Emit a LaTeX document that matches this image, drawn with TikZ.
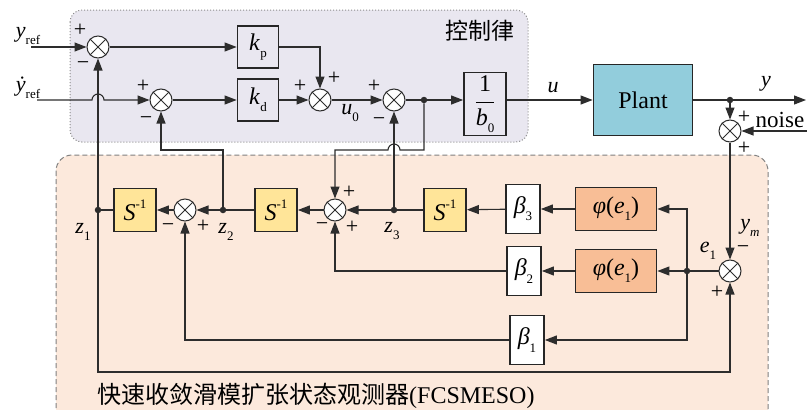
\documentclass[tikz,border=0pt]{standalone}
\usepackage{fontspec}
\setmainfont{Liberation Serif}
\newfontfamily\cjk{Noto Sans CJK SC}
\usetikzlibrary{arrows.meta}

\definecolor{ctrlbg}{RGB}{233,231,240}
\definecolor{esobg}{RGB}{252,233,220}
\definecolor{plantfill}{RGB}{146,205,220}
\definecolor{intfill}{RGB}{255,229,153}
\definecolor{phifill}{RGB}{248,190,150}
\definecolor{wirec}{RGB}{45,45,45}

\newcommand\lblsize{\fontsize{22}{24}\selectfont}
\newcommand\blksize{\fontsize{24}{26}\selectfont}
\newcommand\sub[1]{\raisebox{-0.3em}{\fontsize{13}{13}\selectfont #1}}
\newcommand\sinv{\textit{S}\raisebox{0.5em}{\fontsize{13}{13}\selectfont -1}}
\newcommand\phie{\textit{φ}(\textit{e}\sub{1})}

\begin{document}
\begin{tikzpicture}[
        x=1pt, y=-1pt,
        ctrlbox/.style={fill=ctrlbg, draw=black!45, dotted, line width=1pt, rounded corners=12pt},
        esobox/.style={fill=esobg, draw=black!50, dash pattern=on 5pt off 3pt, line width=1pt, rounded corners=16pt},
        sumn/.style={circle, draw=wirec, line width=1pt, fill=white, minimum size=22pt, inner sep=0pt},
        blk/.style={draw=black!85, line width=1.8pt, inner sep=0pt, font=\blksize},
        gainbox/.style={blk, minimum width=41pt, minimum height=42pt},
        intbox/.style={blk, fill=intfill, minimum width=42pt, minimum height=43pt},
        betabox/.style={blk, fill=white, minimum width=34pt, minimum height=49pt},
        phibox/.style={blk, fill=phifill, minimum width=81pt, minimum height=43pt},
        dot/.style={circle, fill=wirec, minimum size=6.5pt, inner sep=0pt},
        wire/.style={draw=wirec, line width=1.1pt},
        flow/.style={wire, -{Triangle[length=12pt, width=9pt]}},
        lbl/.style={inner sep=0pt, font=\lblsize},
        sgn/.style={inner sep=0pt, font=\fontsize{22}{22}\selectfont}]

    \useasboundingbox (0,0) rectangle (807,410);
    \clip (0,0) rectangle (807,410);

    % areas
    \draw[esobox]  (56,155) rectangle (768,425);
    \draw[ctrlbox] (70,10)  rectangle (528,142);
    \node[font=\cjk\fontsize{23}{26}\selectfont, inner sep=0pt] (ctrltitle) at (480,31) {控制律};
    \node[font=\cjk\fontsize{24}{26}\selectfont, inner sep=0pt, anchor=west] (esotitle) at (97,396)
        {快速收敛滑模扩张状态观测器{\rmfamily(FCSMESO)}};

    % --- control law
    \coordinate (yr)  at (31,47);
    \coordinate (ydr) at (37,100);
    \node[sumn] (s1) at (98,47) {};
    \node[sumn] (s2) at (161,100) {};
    \node[gainbox] (kp) at (258,47)  {\textit{k}\sub{p}};
    \node[gainbox] (kd) at (258,100) {\textit{k}\sub{d}};
    \node[sumn] (s3) at (320,100) {};
    \node[sumn] (s4) at (394,100) {};
    \node[dot]  (j4) at (424,100) {};
    \node[blk, minimum width=42pt, minimum height=63pt] (binv) at (485,104)
        {$\displaystyle\frac{\mbox{1}}{\mbox{\textit{b}\sub{0}}}$};
    \node[blk, fill=plantfill, minimum width=99pt, minimum height=71pt] (plant) at (643,100) {\rmfamily Plant};
    \node[dot]  (jy) at (730,100) {};
    \node[sumn] (sn) at (730,131) {};
    \coordinate (yout) at (806,100);
    \coordinate (nin)  at (807,131);

    \node[lbl] (lyr)  at (28,36)  {\textit{y}\sub{ref}};
    \node[lbl] (lydr) at (28,88)  {\textit{\.{y}}\sub{ref}};
    \node[lbl] (lu0)  at (350,113) {\textit{u}\sub{0}};
    \node[lbl] (lu)   at (553,88)  {\textit{u}};
    \node[lbl] (ly)   at (766,84)  {\textit{y}};
    \node[lbl, font=\rmfamily\fontsize{23}{24}\selectfont] (lnoise) at (780,120) {noise};

    % --- observer
    \node[dot]     (z1) at (98,210) {};
    \node[intbox]  (i1) at (135,210) {\sinv};
    \node[sumn]    (sa) at (185,210) {};
    \node[dot]     (z2) at (223,210) {};
    \node[intbox]  (i2) at (276,210) {\sinv};
    \node[sumn]    (sb) at (335,210) {};
    \node[dot]     (z3) at (394,210) {};
    \node[intbox]  (i3) at (445,210) {\sinv};
    \node[betabox] (b3) at (523,209) {\textit{β}\sub{3}};
    \node[phibox]  (p1) at (616,209) {\phie};
    \node[betabox] (b2) at (524,271) {\textit{β}\sub{2}};
    \node[phibox]  (p2) at (616,271) {\phie};
    \node[dot]     (je) at (687,271) {};
    \node[sumn]    (se) at (730,271) {};
    \node[betabox] (b1) at (527,340) {\textit{β}\sub{1}};

    \node[lbl] (lz1) at (83,232)  {\textit{z}\sub{1}};
    \node[lbl] (lz2) at (226,232) {\textit{z}\sub{2}};
    \node[lbl] (lz3) at (392,231) {\textit{z}\sub{3}};
    \node[lbl] (le1) at (708,251) {\textit{e}\sub{1}};
    \node[lbl] (lym) at (750,228) {\textit{y}\sub{\textit{m}}};

    \coordinate (h1) at (z1 |- ydr);
    \coordinate (h2) at (394,150);
    \coordinate (r2) at (223,150);
    \coordinate (cb) at (98,372);

    % signs at the summing points
    \foreach \nm/\px/\py/\sg in {a1/80/30/+, b1/83/66/−, a2/143/86/+, b2/146/121/−,
            a3/300/86/+, c3/334/78/+, a4/374/86/+, b4/379/122/−,
            an/744/117/+, cn/744/148/+, ba/168/228/−, aa/203/226/+,
            ab/349/192/+, cb/352/227/+, bb/322/227/−, be/743/250/−, ae/717/292/+}
        \node[sgn] (sg\nm) at (\px,\py) {\sg};
    \foreach \s in {s1,s2,s3,s4,sn,sa,sb,se}
        \draw[wirec, line width=0.8pt] (\s.north east) -- (\s.south west) (\s.north west) -- (\s.south east);

    % forward path
    \draw[flow] (yr) -- (s1);
    \draw[flow] (ydr) -- ([xshift=-6pt]h1) arc[start angle=180, end angle=0, radius=6pt] -- (s2);
    \draw[flow] (s1) -- (kp);
    \draw[flow] (s2) -- (kd);
    \draw[flow] (kd) -- (s3);
    \draw[flow] (kp) -| (s3);
    \draw[flow] (s3) -- (s4);
    \draw[wire] (s4) -- (j4);
    \draw[flow] (j4) -- (binv.west |- j4);
    \draw[flow] (binv.east |- j4) -- (plant.west |- j4);
    \draw[wire] (plant.east |- jy) -- (jy);
    \draw[flow] (jy) -- (yout);
    \draw[flow] (jy) -- (sn);
    \draw[flow] (nin) -- (sn);
    \draw[flow] (sn) -- (se);

    % observer chain
    \draw[wire] (se) -- (je);
    \draw[flow] (je) |- (p1);
    \draw[flow] (je) -- (p2);
    \draw[flow] (je) |- (b1);
    \draw[flow] (p1) -- (b3);
    \draw[flow] (p2) -- (b2);
    \draw[flow] (b3) -- (i3);
    \draw[wire] (i3) -- (z3);
    \draw[flow] (z3) -- (sb);
    \draw[flow] (sb) -- (i2);
    \draw[wire] (i2) -- (z2);
    \draw[flow] (z2) -- (sa);
    \draw[flow] (sa) -- (i1);
    \draw[wire] (i1) -- (z1);
    \draw[flow] (b2) -| (sb);
    \draw[flow] (b1) -| (sa);

    % feedback of the estimates
    \draw[flow] (z1) -- (s1);
    \draw[flow] (z1) -- (cb) -| (se);
    \draw[flow] (z2) -- (r2) -| (s2);
    \draw[flow] (z3) -- (s4);
    \draw[flow] (j4) |- ([xshift=6pt]h2) arc[start angle=0, end angle=180, radius=6pt] -| (sb);

\end{tikzpicture}
\end{document}
